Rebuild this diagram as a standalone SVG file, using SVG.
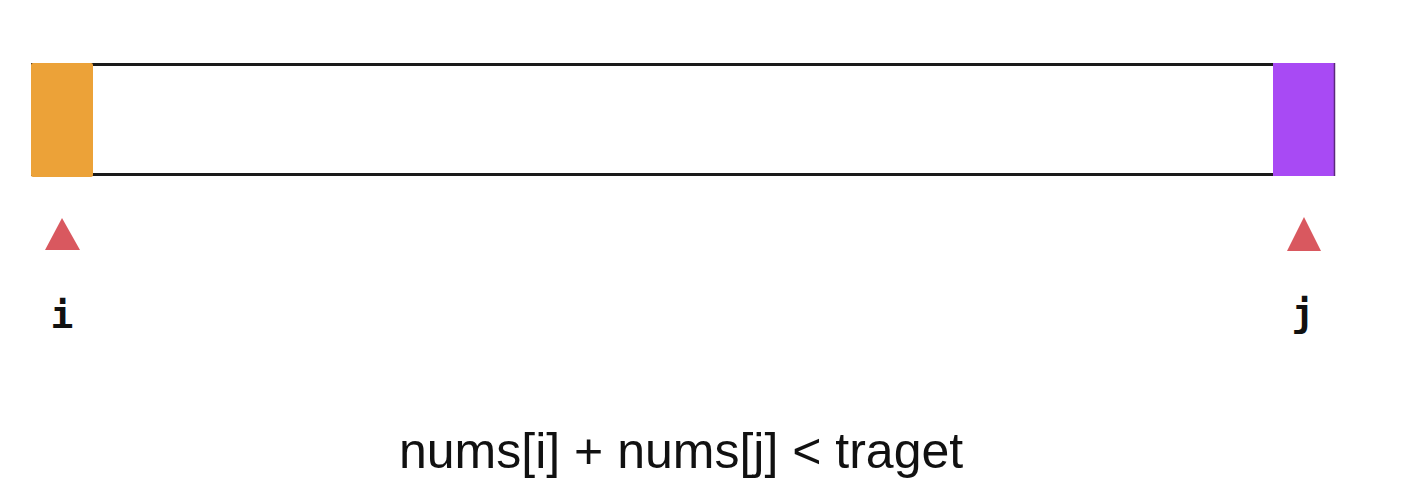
<svg xmlns="http://www.w3.org/2000/svg" width="1404" height="500" viewBox="0 0 1404 500">
<style>
.ptr{fill:#d9585f}
.lbl{font-family:"DejaVu Sans Mono","Liberation Mono",monospace;font-weight:bold;font-size:38px;fill:#111;text-anchor:middle}
.eq{font-family:"Liberation Sans",Arial,sans-serif;font-size:50px;fill:#111}
</style>
<rect width="1404" height="500" fill="#ffffff"/>
<g id="array">
<line x1="31" y1="64.5" x2="1335" y2="64.5" stroke="#1a1a1a" stroke-width="3"/>
<line x1="31" y1="174.5" x2="1335" y2="174.5" stroke="#1a1a1a" stroke-width="3"/>
</g>
<g id="cell-i">
<rect x="31" y="63" width="62" height="114" rx="2" fill="#eca238"/>
</g>
<g id="cell-j">
<rect x="1273" y="63" width="62" height="113" fill="#a84af4"/>
<line x1="1334.5" y1="63" x2="1334.5" y2="176" stroke="#5a2a7a" stroke-width="1.5"/>
</g>
<g id="pointer-i">
<polygon class="ptr" points="62,218 45,250 80,250"/>
<text class="lbl" x="62" y="328">i</text>
</g>
<g id="pointer-j">
<polygon class="ptr" points="1304,217 1287,251 1321,251"/>
<text class="lbl" x="1303" y="326">j</text>
</g>
<g id="condition">
<text class="eq" x="399" y="468">nums[i] + nums[j] &lt; traget</text>
</g>
</svg>
